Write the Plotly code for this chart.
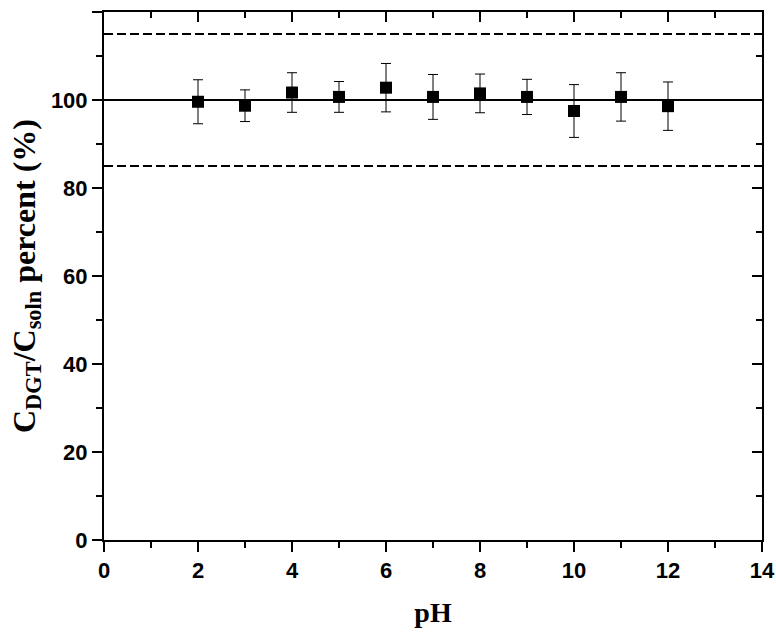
import plotly.graph_objects as go

# Data
ph = [2, 3, 4, 5, 6, 7, 8, 9, 10, 11, 12]
percent = [99.6, 98.7, 101.7, 100.7, 102.8, 100.7, 101.5, 100.7, 97.5, 100.7, 98.6]
err = [5.0, 3.6, 4.5, 3.5, 5.5, 5.1, 4.4, 4.0, 6.0, 5.5, 5.5]
ref_solid = [100]
ref_dashed = [85, 115]
x_ticks = [0, 2, 4, 6, 8, 10, 12, 14]
y_ticks = [0, 20, 40, 60, 80, 100, 120]

fig = go.Figure()

fig.add_trace(go.Scatter(
    x=ph, y=percent, mode="markers",
    marker=dict(symbol="square", size=12, color="black"),
    error_y=dict(type="data", array=err, visible=True, color="black",
                 thickness=1, width=5),
    showlegend=False, hoverinfo="x+y",
))
# invisible trace to anchor the mirrored (top/right) axes
fig.add_trace(go.Scatter(x=[0], y=[0], xaxis="x2", yaxis="y2", mode="markers",
                         marker=dict(opacity=0), showlegend=False, hoverinfo="skip"))

for v in ref_solid:
    fig.add_shape(type="line", xref="paper", x0=0, x1=1, yref="y", y0=v, y1=v,
                  line=dict(color="black", width=2))
for v in ref_dashed:
    fig.add_shape(type="line", xref="paper", x0=0, x1=1, yref="y", y0=v, y1=v,
                  line=dict(color="black", width=2, dash="9px,4px"))

tickfont = dict(family="Liberation Sans, Arial", size=22, color="black")
titlefont = dict(family="Liberation Serif, Times New Roman", size=28, color="black")
ytitlefont = dict(family="Liberation Serif, Times New Roman", size=32, color="black")

common = dict(tickwidth=2, tickcolor="black", showline=True, linewidth=2, linecolor="black",
              showgrid=False, zeroline=False, automargin=False, mirror=False)

fig.update_layout(
    width=776, height=637,
    margin=dict(l=104, r=14, t=12, b=97),
    plot_bgcolor="white", paper_bgcolor="white",
    xaxis=dict(range=[0, 14], tickmode="array", tickvals=x_ticks,
               ticktext=[f"<b>{t}</b>" for t in x_ticks],
               ticks="outside", ticklen=10, tickfont=tickfont,
               minor=dict(dtick=1, tick0=0, ticks="outside", ticklen=6, tickwidth=2, tickcolor="black"),
               title=dict(text="<b>pH</b>", font=titlefont, standoff=20), **common),
    yaxis=dict(range=[0, 120], tickmode="array", tickvals=y_ticks,
               ticktext=[f"<b>{t}</b>" for t in y_ticks],
               ticks="outside", ticklen=10, tickfont=tickfont,
               minor=dict(dtick=10, tick0=0, ticks="outside", ticklen=6, tickwidth=2, tickcolor="black"),
               title=dict(text="<b>C<sub>DGT</sub>/C<sub>soln</sub> percent (%)</b>",
                          font=ytitlefont, standoff=6), **common),
    xaxis2=dict(range=[0, 14], dtick=2, tick0=0, overlaying="x", side="top", anchor="y2",
                ticks="inside", ticklen=10, showticklabels=False,
                minor=dict(dtick=1, tick0=0, ticks="inside", ticklen=6, tickwidth=2, tickcolor="black"),
                **common),
    yaxis2=dict(range=[0, 120], dtick=20, tick0=0, overlaying="y", side="right", anchor="x2",
                ticks="inside", ticklen=10, showticklabels=False,
                minor=dict(dtick=10, tick0=0, ticks="inside", ticklen=6, tickwidth=2, tickcolor="black"),
                **common),
)

fig.write_html("out.html")
